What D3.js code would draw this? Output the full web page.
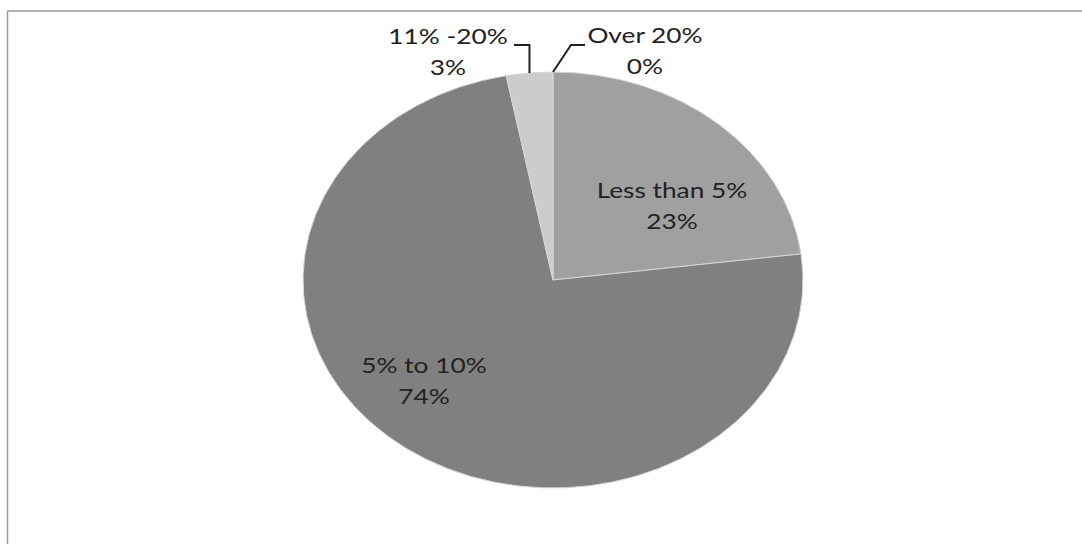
<!DOCTYPE html>
<html>
<head>
<meta charset="utf-8">
<script src="https://cdn.jsdelivr.net/npm/d3@7"></script>
<style>
  html, body { margin: 0; padding: 0; background: #fff; }
  svg { display: block; }
  text { font-family: Lato, "Open Sans", sans-serif; fill: #222; }
</style>
</head>
<body>
<svg id="chart" width="1082" height="544"></svg>
<script>
// ---- data ----
const categories = ["Less than 5%", "5% to 10%", "11% -20%", "Over 20%"];
const values = [23, 74, 3, 0];
const percentLabels = ["23%", "74%", "3%", "0%"];
const colors = ["#a0a0a0", "#808080", "#cccccc", "#b0b0b0"];

const W = 1082, H = 544;
const cx = 553, cy = 280, rx = 250, ry = 208;
const stretch = rx / ry; // the scan is stretched horizontally

const svg = d3.select("#chart");

// frame (top and left edges visible in the scan)
svg.append("line").attr("x1", 7.5).attr("y1", 11).attr("x2", W).attr("y2", 11)
  .attr("stroke", "#9a9a9a").attr("stroke-width", 1.5);
svg.append("line").attr("x1", 7.5).attr("y1", 11).attr("x2", 7.5).attr("y2", H)
  .attr("stroke", "#9a9a9a").attr("stroke-width", 1.5);

const data = categories.map((c, i) => ({ name: c, value: values[i], pct: percentLabels[i], color: colors[i] }));

const pie = d3.pie().sort(null).value(d => d.value).startAngle(0).endAngle(2 * Math.PI);
const arcs = pie(data);
const arc = d3.arc().innerRadius(0).outerRadius(rx);

const g = svg.append("g").attr("transform", `translate(${cx},${cy}) scale(1,${ry / rx})`);
g.selectAll("path").data(arcs.filter(a => a.value > 0)).enter().append("path")
  .attr("d", arc)
  .attr("fill", d => d.data.color)
  .attr("stroke", "#d6d6d6")
  .attr("stroke-width", 1)
  .attr("vector-effect", "non-scaling-stroke");

// label placement
const fs = 21;
const lineGap = 31;
const labelPos = {
  "Less than 5%": [672, 193],
  "5% to 10%": [424, 368],
  "11% -20%": [448, 39],
  "Over 20%": [645, 38]
};

arcs.forEach(a => {
  const [lx, ly] = labelPos[a.data.name];
  const t = svg.append("text").attr("text-anchor", "middle")
    .attr("font-size", fs)
    .attr("transform", `translate(${lx},${ly}) scale(${stretch * 1.04},1)`);
  t.append("tspan").attr("x", 0).attr("y", 0).attr("dominant-baseline", "middle").text(a.data.name);
  t.append("tspan").attr("x", 0).attr("y", lineGap).attr("dominant-baseline", "middle").text(a.data.pct);
});

// leader lines from outside labels to the slice edge
function edgePoint(angle) {
  return [cx + rx * Math.sin(angle), cy - ry * Math.cos(angle)];
}
arcs.forEach(a => {
  if (a.data.name === "11% -20%") {
    const [ex, ey] = edgePoint((a.startAngle + a.endAngle) / 2);
    svg.append("path").attr("d", d3.line()([[514, 45], [ex, 45], [ex, ey]]))
      .attr("fill", "none").attr("stroke", "#222").attr("stroke-width", 2);
  } else if (a.data.name === "Over 20%") {
    const [ex, ey] = edgePoint(a.endAngle);
    svg.append("path").attr("d", d3.line()([[585, 45], [571, 45], [ex, ey]]))
      .attr("fill", "none").attr("stroke", "#222").attr("stroke-width", 2);
  }
});
</script>
</body>
</html>
